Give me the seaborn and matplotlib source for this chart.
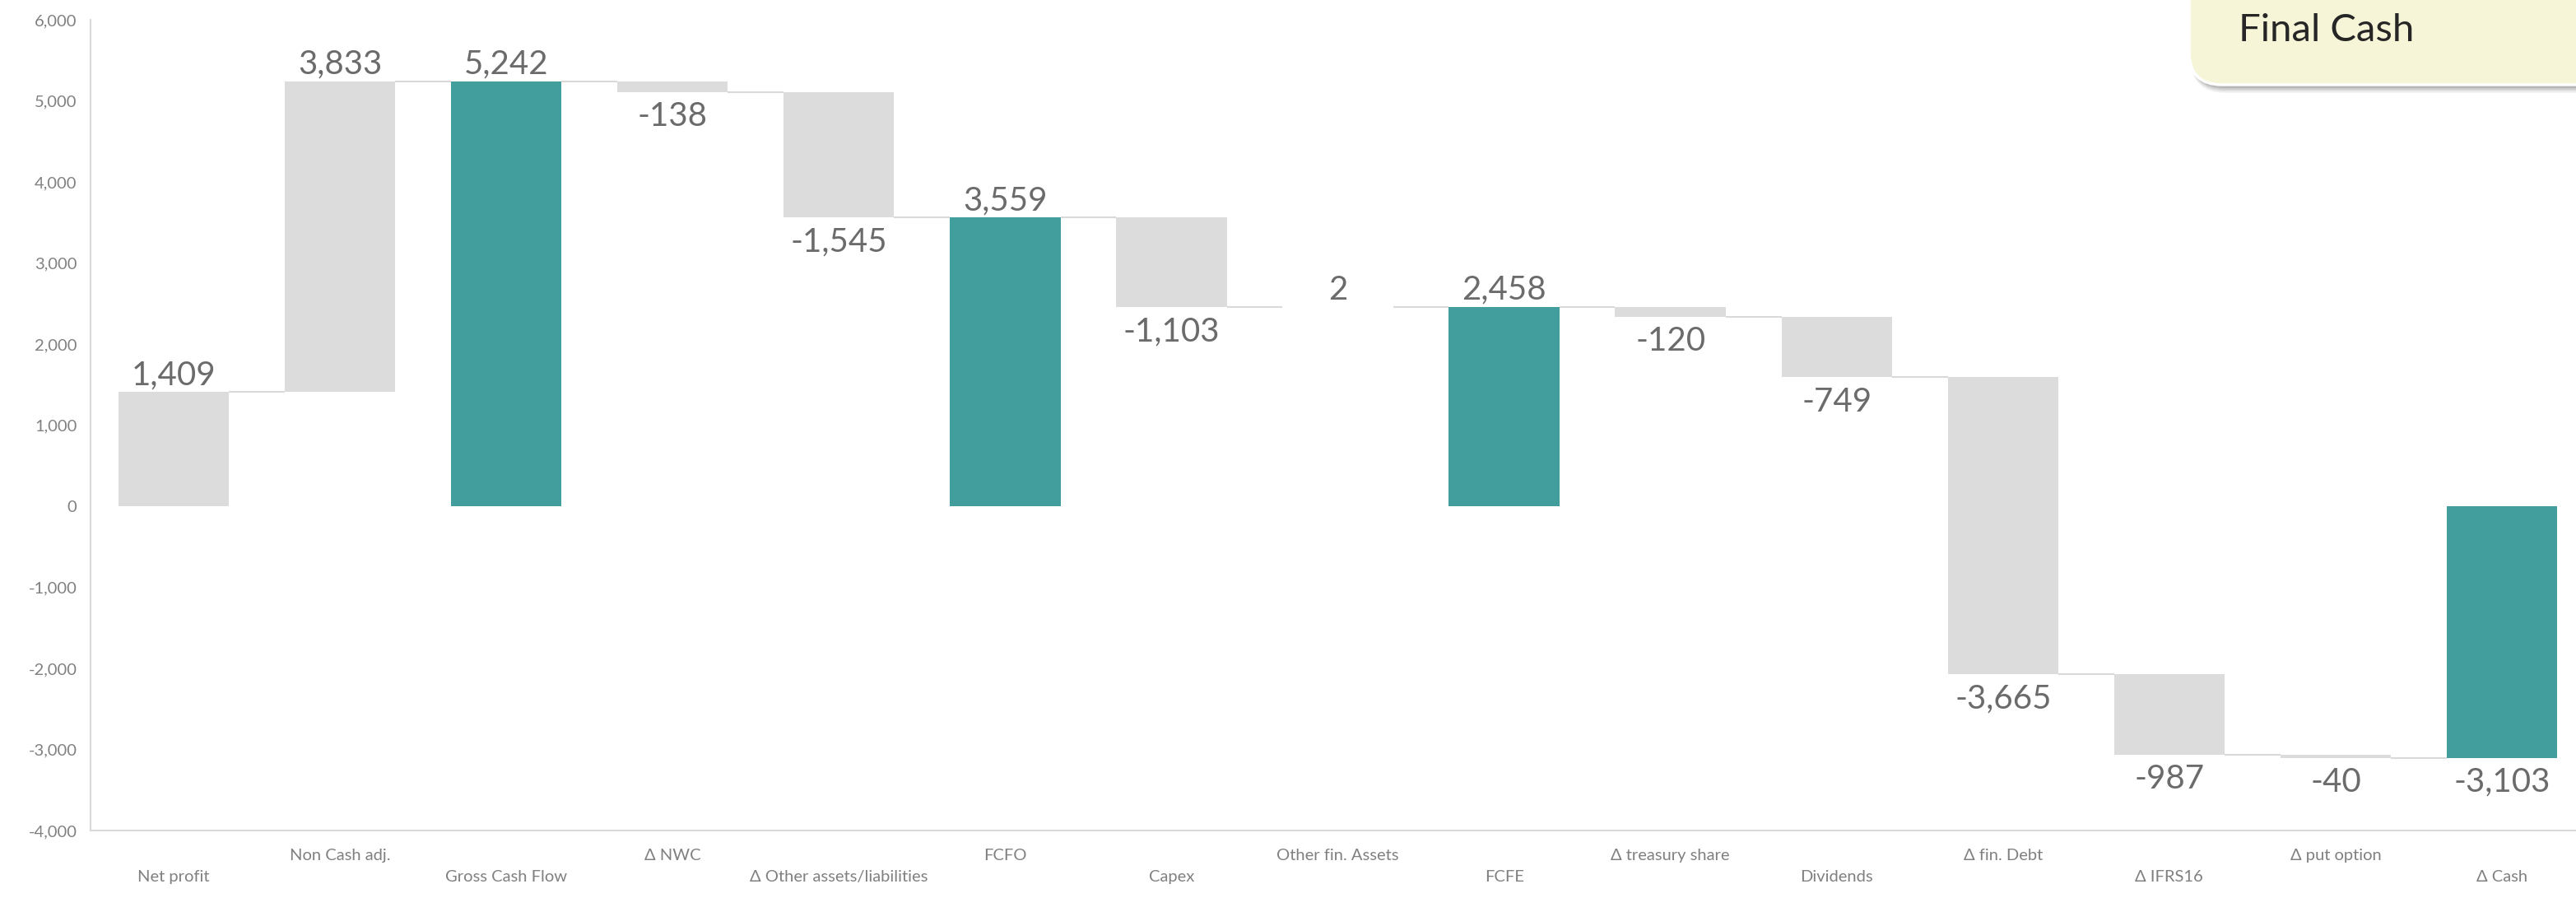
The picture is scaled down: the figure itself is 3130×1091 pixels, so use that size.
import matplotlib
matplotlib.use("Agg")
import matplotlib.pyplot as plt
from matplotlib.patches import FancyBboxPatch
from matplotlib.ticker import FuncFormatter
from matplotlib.transforms import ScaledTranslation
import pandas as pd
import seaborn as sns

# Cash flow bridge
categories = ["Net profit", "Non Cash adj.", "Gross Cash Flow", "Δ NWC",
              "Δ Other assets/liabilities", "FCFO", "Capex", "Other fin. Assets",
              "FCFE", "Δ treasury share", "Dividends", "Δ fin. Debt",
              "Δ IFRS16", "Δ put option", "Δ Cash"]
amounts = [1409, 3833, 5242, -138, -1545, 3559, -1103, 2,
           2458, -120, -749, -3665, -987, -40, -3103]
is_total = [False, False, True, False, False, True, False, False,
            True, False, False, False, False, False, True]
y_ticks = [-4000, -3000, -2000, -1000, 0, 1000, 2000, 3000, 4000, 5000, 6000]
box_title = "Final Cash"

GREY = "#DCDCDC"
TEAL = "#429E9D"
LINE = "#D9D9D9"
LABEL = "#6B6B6B"
TICK = "#808080"

# running totals: where each bar starts and ends
starts, ends = [], []
level = 0
for a, tot in zip(amounts, is_total):
    if tot:
        starts.append(0)
        ends.append(a)
        level = a
    else:
        starts.append(level)
        ends.append(level + a)
        level += a
heights = [e - s for s, e in zip(starts, ends)]

df = pd.DataFrame({"step": categories, "height": heights})
palette = {c: (TEAL if t else GREY) for c, t in zip(categories, is_total)}

sns.set_theme(style="white")
plt.rcParams["font.family"] = ["Lato", "DejaVu Sans"]

W, H = 3130, 1091
fig = plt.figure(figsize=(W / 100, H / 100), dpi=100)
ax = fig.add_axes([110 / W, (H - 1009) / H, (3141 - 110) / W, (1009 - 24) / H])

BAR_W = 0.665
sns.barplot(data=df, x="step", y="height", hue="step", palette=palette,
            order=categories, hue_order=categories, width=BAR_W,
            dodge=False, legend=False, errorbar=None, ax=ax,
            linewidth=0, saturation=1)

# lift each floating bar to its running-total start
for patch, s in zip(ax.patches, starts):
    patch.set_y(s)

# connectors between neighbouring bars
for i in range(len(categories) - 1):
    ax.plot([i + BAR_W / 2, i + 1 - BAR_W / 2], [ends[i], ends[i]],
            color=LINE, lw=1.5, solid_capstyle="butt", zorder=1)

# value labels
for i, (a, s, e, tot) in enumerate(zip(amounts, starts, ends, is_total)):
    txt = f"{a:,}"
    if a >= 0:
        y = max(s, e)
        ax.annotate(txt, (i, y), xytext=(0, 6.5), textcoords="offset points",
                    ha="center", va="baseline", fontsize=29, color=LABEL)
    else:
        y = min(s, e)
        ax.annotate(txt, (i, y), xytext=(0, -8), textcoords="offset points",
                    ha="center", va="top", fontsize=29, color=LABEL)

ax.set_xlim(-0.5, len(categories) - 0.5)
ax.set_ylim(-4000, 6000)
ax.set_yticks(y_ticks)
ax.yaxis.set_major_formatter(FuncFormatter(lambda v, _: f"{v:,.0f}"))
ax.set_xlabel("")
ax.set_ylabel("")

for side in ["top", "right"]:
    ax.spines[side].set_visible(False)
for side in ["left", "bottom"]:
    ax.spines[side].set_color(LINE)
    ax.spines[side].set_linewidth(1.5)

ax.tick_params(axis="y", length=0, pad=12, labelsize=14.5, labelcolor=TICK)
ax.tick_params(axis="x", length=0, pad=16, labelsize=14.5, labelcolor=TICK)
ax.set_xticks(range(len(categories)))
ax.set_xticklabels(categories)

# stagger the category names over two rows
shift = ScaledTranslation(0, -26 / 100, fig.dpi_scale_trans)
for i, lab in enumerate(ax.get_xticklabels()):
    if i % 2 == 0:
        lab.set_transform(lab.get_transform() + shift)

# "Final Cash" call-out in the top-right corner
inch = fig.dpi_scale_trans
bx, by, bw, bh = 26.6, (H - 103) / 100, 6.0, 2.0
for dy, al in [(0.10, 0.05), (0.08, 0.07), (0.06, 0.09), (0.04, 0.10), (0.02, 0.10)]:
    fig.patches.append(FancyBboxPatch(
        (bx + 0.02, by - dy), bw, bh, boxstyle="round,pad=0,rounding_size=0.42",
        transform=inch, facecolor="black", edgecolor="none", alpha=al, zorder=5))
fig.patches.append(FancyBboxPatch(
    (bx, by), bw, bh, boxstyle="round,pad=0,rounding_size=0.40",
    transform=inch, facecolor="#F6F5D8", edgecolor="white", linewidth=2.5,
    zorder=6))
fig.text(2720 / W, (H - 50) / H, box_title, fontsize=34, color="#262626",
         ha="left", va="baseline", zorder=7)

fig.savefig("out.png", dpi=100, facecolor="white")
